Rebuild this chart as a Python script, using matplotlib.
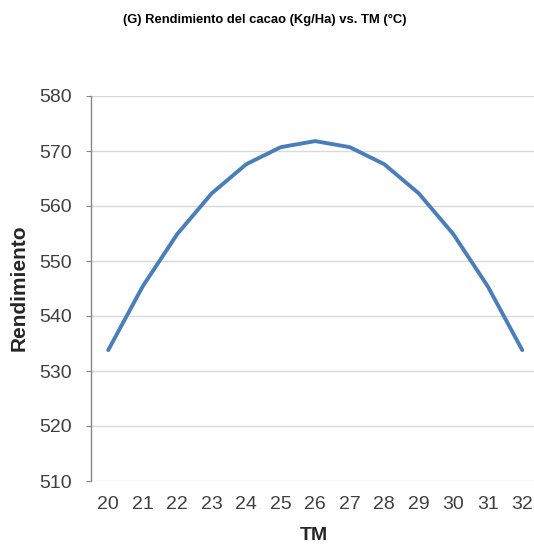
import matplotlib
matplotlib.use("Agg")
import matplotlib.pyplot as plt

tm = ["20", "21", "22", "23", "24", "25", "26", "27", "28", "29", "30", "31", "32"]
rendimiento = [533.8, 545.4, 554.9, 562.3, 567.6, 570.7, 571.8, 570.7, 567.6, 562.3, 554.9, 545.4, 533.8]
yticks = [510, 520, 530, 540, 550, 560, 570, 580]

plt.rcParams['font.family'] = ['Liberation Sans', 'DejaVu Sans']

fig = plt.figure(figsize=(5.34, 5.44), dpi=100)
W, H = 534, 544
left, right, top, bottom = 91, 539.5, 96, 481
ax = fig.add_axes([left / W, 1 - bottom / H, (right - left) / W, (bottom - top) / H])

x = list(range(len(tm)))
ax.plot(x, rendimiento, color='#4A7EBB', linewidth=2.8, solid_capstyle='round', solid_joinstyle='round', zorder=3)

ax.set_xlim(-0.5, len(tm) - 0.5)
ax.set_ylim(510, 580)
ax.set_yticks(yticks)
ax.set_xticks(x)
ax.set_xticklabels(tm)
ax.yaxis.grid(True, color='#D9D9D9', linewidth=1.0)
ax.set_axisbelow(True)
for s in ['top', 'right', 'bottom']:
    ax.spines[s].set_visible(False)
ax.spines['left'].set_color('#868686')
ax.spines['left'].set_linewidth(1.0)
ax.tick_params(axis='y', length=3.6, color='#868686', labelsize=14, labelcolor='#404040', pad=10)
ax.tick_params(axis='x', length=0, labelsize=14, labelcolor='#404040', pad=11)

fig.text(314 / W, 1 - 543.5 / H, 'TM', ha='center', va='bottom', fontsize=14, fontweight='bold', color='#262626')
fig.text(19 / W, 1 - 288 / H, 'Rendimiento', ha='center', va='center', rotation=90, fontsize=15, fontweight='bold', color='#262626')
fig.text(265 / W, 1 - 20 / H, '(G) Rendimiento del cacao (Kg/Ha) vs. TM (°C)', ha='center', va='center', fontsize=9.35, fontweight='bold', color='#000000')

fig.savefig('out.png', dpi=100)
